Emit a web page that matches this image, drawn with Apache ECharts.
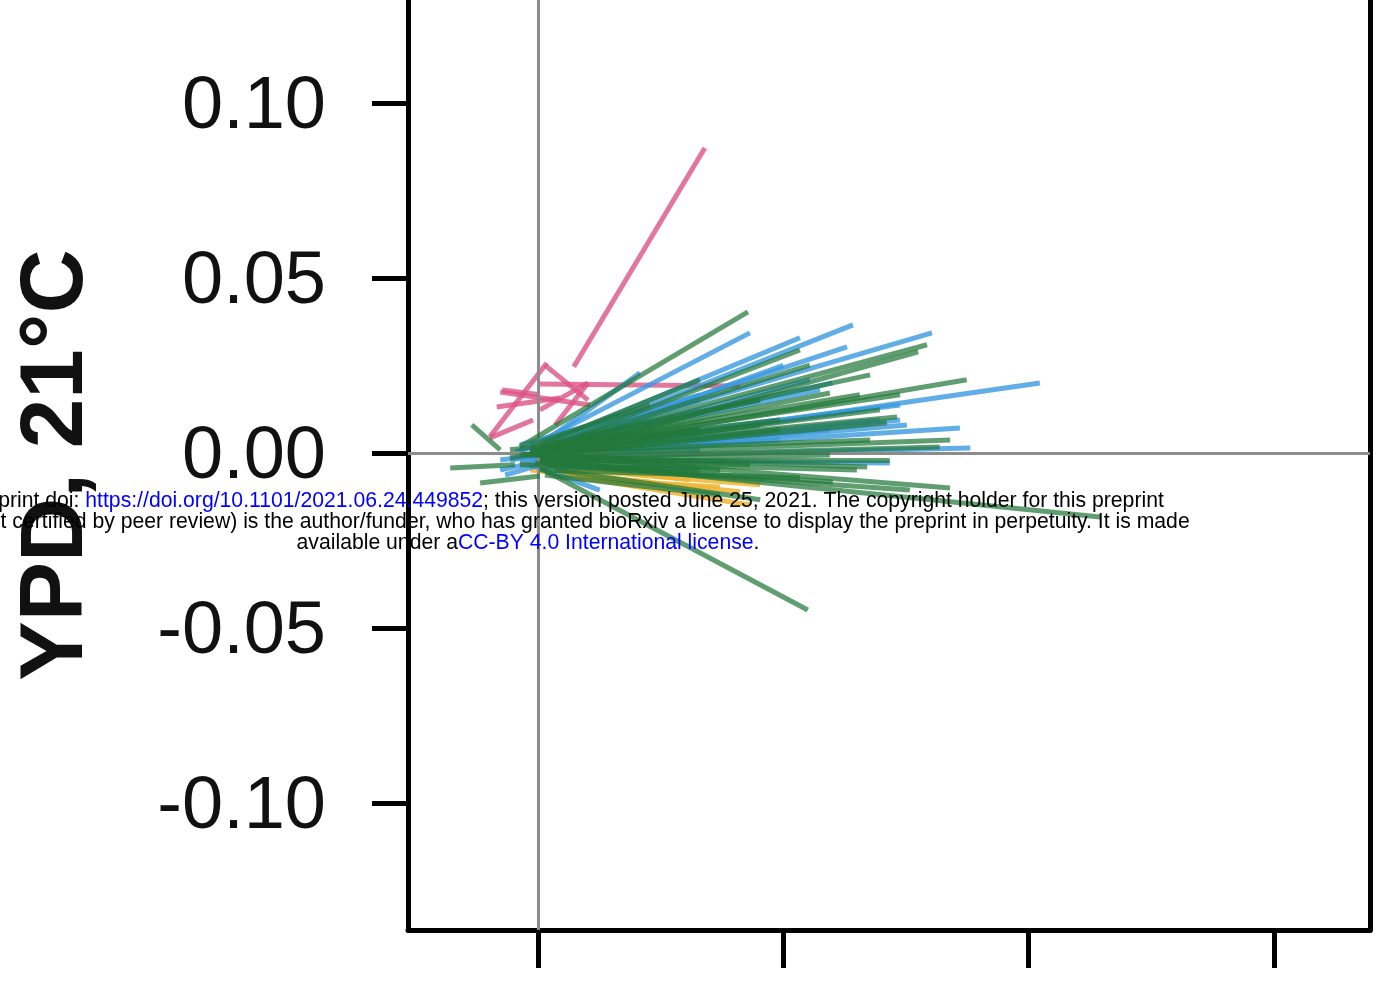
<!DOCTYPE html>
<html>
<head>
<meta charset="utf-8">
<script src="https://cdn.jsdelivr.net/npm/echarts@6/dist/echarts.min.js"></script>
<style>html,body{margin:0;padding:0;background:#fff}#c{width:1379px;height:986px}</style>
</head>
<body>
<div id="c"></div>
<script>
// Axis ranges and ticks
const xRange = [-0.0265, 0.1696];
const yRange = [-0.1363, 0.1294];
const xTicks = [0, 0.05, 0.10, 0.15];
const yTicks = [-0.10, -0.05, 0, 0.05, 0.10];
const yTitle = 'YPD, 21°C';

// Segments: [x1, y1, x2, y2]
const pinkSegs = [
  [0.0073, 0.0246, 0.0340, 0.0871],
  [-0.0098, 0.0046, 0.0018, 0.0257],
  [0.0014, 0.0251, 0.0102, 0.0151],
  [0.0004, 0.0197, 0.0412, 0.0191],
  [0.0102, 0.0200, 0.0035, 0.0080],
  [-0.0077, 0.0174, 0.0106, 0.0137],
  [-0.0084, 0.0131, 0.0045, 0.0157],
  [-0.0098, 0.0043, -0.0010, 0.0094],
  [-0.0073, 0.0180, 0.0004, 0.0166],
  [0.0004, 0.0123, 0.0102, 0.0200]
];
const yellowSegs = [
  [-0.0037, -0.0026, 0.0310, -0.0077],
  [-0.0016, -0.0049, 0.0412, -0.0111],
  [0.0014, -0.0054, 0.0432, -0.0149],
  [0.0045, -0.0063, 0.0228, -0.0083],
  [-0.0026, -0.0034, 0.0126, -0.0049],
  [0.0004, -0.0040, 0.0453, -0.0091],
  [0.0045, -0.0071, 0.0371, -0.0097]
];
const blueSegs = [
  [0.0004, -0.0006, 0.1023, 0.0200],
  [0.0024, 0.0023, 0.0803, 0.0343],
  [0.0014, 0.0017, 0.0642, 0.0366],
  [-0.0016, 0.0009, 0.0534, 0.0329],
  [-0.0037, 0.0003, 0.0432, 0.0343],
  [0.0004, 0.0014, 0.0630, 0.0303],
  [0.0004, -0.0006, 0.0860, 0.0071],
  [-0.0016, -0.0014, 0.0738, 0.0094],
  [0.0014, -0.0006, 0.0752, 0.0080],
  [0.0004, -0.0014, 0.0881, 0.0014],
  [0.0004, 0.0023, 0.0208, 0.0229],
  [-0.0067, -0.0063, 0.0004, -0.0034],
  [-0.0057, -0.0020, 0.0493, 0.0094],
  [-0.0026, -0.0014, 0.0656, 0.0123],
  [0.0004, -0.0026, 0.0371, 0.0037],
  [-0.0047, 0.0003, 0.0330, 0.0151],
  [0.0014, -0.0040, 0.0310, -0.0043],
  [-0.0077, -0.0020, 0.0004, -0.0006],
  [0.0024, -0.0020, 0.0717, -0.0029],
  [-0.0016, 0.0009, 0.0600, 0.0200],
  [-0.0006, -0.0006, 0.0500, 0.0250],
  [-0.0037, 0.0023, 0.0330, 0.0166],
  [-0.0016, 0.0009, 0.0453, 0.0151],
  [0.0004, 0.0014, 0.0575, 0.0180],
  [-0.0006, -0.0006, 0.0493, 0.0037],
  [-0.0037, -0.0020, 0.0330, 0.0009],
  [0.0014, 0.0003, 0.0697, 0.0094],
  [-0.0016, -0.0034, 0.0126, -0.0106],
  [-0.0077, -0.0049, 0.0014, -0.0020],
  [0.0004, 0.0009, 0.0738, 0.0137],
  [-0.0016, -0.0006, 0.0595, 0.0066],
  [0.0004, 0.0023, 0.0330, 0.0123],
  [-0.0037, 0.0009, 0.0228, 0.0094],
  [0.0004, 0.0003, 0.0554, 0.0209]
];
const greenSegs = [
  [-0.0037, 0.0017, 0.0428, 0.0403],
  [0.0004, 0.0009, 0.0534, 0.0294],
  [0.0024, 0.0020, 0.0554, 0.0251],
  [-0.0016, 0.0003, 0.0595, 0.0171],
  [0.0014, 0.0014, 0.0793, 0.0309],
  [0.0045, 0.0003, 0.0775, 0.0289],
  [0.0004, 0.0003, 0.0874, 0.0209],
  [0.0024, 0.0009, 0.0732, 0.0103],
  [-0.0006, -0.0006, 0.0711, 0.0086],
  [0.0004, -0.0014, 0.0819, 0.0017],
  [0.0014, -0.0020, 0.0717, -0.0020],
  [-0.0026, -0.0006, 0.0671, -0.0040],
  [0.0004, -0.0026, 0.0650, -0.0049],
  [0.0014, -0.0034, 0.0758, -0.0106],
  [-0.0006, -0.0029, 0.0601, -0.0083],
  [0.0004, -0.0043, 0.0550, -0.0449],
  [0.0045, -0.0026, 0.1146, -0.0183],
  [-0.0179, -0.0043, -0.0047, -0.0034],
  [-0.0118, -0.0086, 0.0004, -0.0066],
  [-0.0135, 0.0080, -0.0077, 0.0009],
  [0.0004, 0.0023, 0.0330, 0.0209],
  [-0.0006, 0.0003, 0.0677, 0.0037],
  [0.0014, -0.0006, 0.0493, 0.0066],
  [0.0035, -0.0049, 0.0453, -0.0134],
  [0.0024, -0.0034, 0.0371, -0.0049],
  [0.0004, -0.0006, 0.0840, -0.0100],
  [-0.0037, -0.0006, 0.0697, 0.0123],
  [-0.0016, 0.0009, 0.0453, 0.0151],
  [-0.0057, -0.0014, 0.0330, 0.0066],
  [0.0004, 0.0014, 0.0656, 0.0166],
  [-0.0057, 0.0009, 0.0493, 0.0094],
  [0.0004, -0.0049, 0.0534, -0.0071],
  [-0.0037, -0.0034, 0.0330, -0.0049],
  [0.0004, -0.0020, 0.0595, -0.0006],
  [-0.0016, 0.0023, 0.0228, 0.0137],
  [0.0014, -0.0063, 0.0371, -0.0120],
  [0.0004, 0.0014, 0.0738, 0.0166],
  [-0.0016, 0.0003, 0.0453, 0.0080],
  [0.0004, -0.0006, 0.0840, 0.0037],
  [0.0014, 0.0023, 0.0677, 0.0223],
  [0.0004, -0.0020, 0.0432, -0.0034],
  [0.0004, 0.0009, 0.0330, 0.0066]
];

const FONT = '"Liberation Sans", Arial, Helvetica, sans-serif';

function segSeries(segs, color, z, opacity) {
  return {
    type: 'lines',
    coordinateSystem: 'cartesian2d',
    polyline: false,
    silent: true,
    z: z,
    lineStyle: { color: color, width: 5, opacity: opacity, cap: 'butt' },
    data: segs.map(s => ({ coords: [[s[0], s[1]], [s[2], s[3]]] }))
  };
}

const chart = echarts.init(document.getElementById('c'), null, { renderer: 'canvas' });
chart.setOption({
  animation: false,
  backgroundColor: '#ffffff',
  grid: { left: 408, right: 9, top: 0, bottom: 56, containLabel: false },
  xAxis: {
    type: 'value', min: xRange[0], max: xRange[1],
    axisLine: { show: true, onZero: false, lineStyle: { color: '#000', width: 5 } },
    axisTick: { show: true, customValues: xTicks, length: 38, lineStyle: { color: '#000', width: 5 } },
    axisLabel: { show: false, customValues: xTicks },
    splitLine: { show: false }
  },
  yAxis: [{
    type: 'value', min: yRange[0], max: yRange[1],
    axisLine: { show: true, onZero: false, lineStyle: { color: '#000', width: 5 } },
    axisTick: { show: true, customValues: yTicks, length: 36, lineStyle: { color: '#000', width: 5 } },
    axisLabel: { show: false, customValues: yTicks },
    splitLine: { show: false }
  }, {
    type: 'value', min: yRange[0], max: yRange[1], position: 'right',
    axisLine: { show: true, onZero: false, lineStyle: { color: '#000', width: 5 } },
    axisTick: { show: false }, axisLabel: { show: false }, splitLine: { show: false }
  }],
  series: [
    segSeries(pinkSegs, '#dc5483', 2, 0.8),
    segSeries(yellowSegs, '#f0b533', 3, 0.85),
    segSeries(blueSegs, '#3a9ae0', 4, 0.8),
    segSeries(greenSegs, '#23793a', 5, 0.72),
    {
      type: 'line', data: [], z: 10, silent: true,
      markLine: {
        silent: true, symbol: 'none', animation: false,
        label: { show: false },
        lineStyle: { color: '#8c8c8c', width: 3, type: 'solid' },
        data: [{ xAxis: 0 }, { yAxis: 0 }]
      }
    }
  ]
});

// Tick labels placed through the axis scale
const axisLeftPx = chart.convertToPixel({ xAxisIndex: 0 }, xRange[0]);
const tickLabels = yTicks.map(v => ({
  type: 'text',
  x: axisLeftPx - 82,
  y: chart.convertToPixel({ yAxisIndex: 0 }, v) + 5,
  z: 100,
  style: { text: v.toFixed(2), font: '74px ' + FONT, fill: '#111', align: 'right', verticalAlign: 'middle' }
}));

chart.setOption({
  graphic: tickLabels.concat([
    {
      type: 'text', x: 57, y: 465, rotation: Math.PI / 2, z: 100,
      style: { text: yTitle, font: 'bold 89px ' + FONT, fill: '#111', align: 'center', verticalAlign: 'middle' }
    },
    {
      type: 'text', x: 528, y: 522, z: 100,
      style: {
        text: '{k|bioRxiv preprint doi: }{b|https://doi.org/10.1101/2021.06.24.449852}{k|; this version posted June 25, 2021. The copyright holder for this preprint}\n' +
              '{k|(which was not certified by peer review) is the author/funder, who has granted bioRxiv a license to display the preprint in perpetuity. It is made}\n' +
              '{k|available under a}{b|CC-BY 4.0 International license}{k|.}',
        align: 'center', verticalAlign: 'middle',
        rich: {
          k: { fontSize: 21.2, lineHeight: 21, fontFamily: FONT, fill: '#000', color: '#000' },
          b: { fontSize: 21.2, lineHeight: 21, fontFamily: FONT, fill: '#0000ff', color: '#0000ff' }
        }
      }
    }
  ])
});
</script>
</body>
</html>
